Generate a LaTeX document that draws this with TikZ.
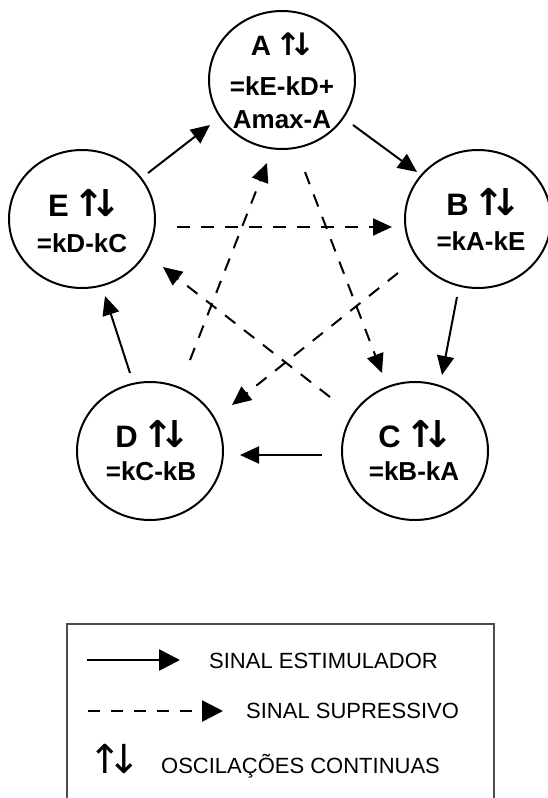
\documentclass[tikz,border=0pt]{standalone}
\usepackage{fontspec}
\setmainfont{Liberation Sans}
\newfontfamily\symfont{DejaVu Sans}
\usetikzlibrary{arrows.meta,calc,shapes.geometric}

% bold "up-down" oscillation mark used in every cell heading
\newcommand{\oscmark}[1]{{\symfont\bfseries\fontsize{#1}{#1}\selectfont ↑\kern-0.38em↓}}

\begin{document}
\begin{tikzpicture}[x=1pt,y=-1pt,
  cell/.style={draw, line width=2pt, ellipse, minimum width=146pt,
    minimum height=138pt, inner sep=0pt},
  headtxt/.style={anchor=base, inner sep=0pt,
    font=\bfseries\fontsize{31}{31}\selectfont},
  ruletxt/.style={anchor=base, inner sep=0pt,
    font=\bfseries\fontsize{26}{26}\selectfont},
  stim/.style={line width=2pt, -{Triangle[length=19pt,width=17pt]}},
  supp/.style={stim, dash pattern=on 13pt off 11pt},
  keyline/.style={line width=2.5pt, -{Triangle[length=21pt,width=21pt]}},
  keytxt/.style={anchor=base west, inner sep=0pt,
    font=\fontsize{22}{22}\selectfont},
]
\useasboundingbox (0,0) rectangle (547,798);

% the five cells
\node[cell] (A) at (282,80) {};
\node[cell] (E) at (82,219) {};
\node[cell] (B) at (478,219) {};
\node[cell] (D) at (150,451) {};
\node[cell] (C) at (415,451) {};

% cell labels
\node[anchor=base, inner sep=0pt, font=\bfseries\fontsize{28}{28}\selectfont]
  (Ahead) at (283,55) {A\hspace{4pt}\oscmark{31}};
\node[ruletxt] (Arule) at (282,95) {=kE-kD+};
\node[ruletxt] (Arule2) at (282,128) {Amax-A};

\node[headtxt] (Ehead) at (85,216) {E\hspace{5pt}\oscmark{37}};
\node[ruletxt] (Erule) at (82,252) {=kD-kC};

\node[headtxt] (Bhead) at (484,215) {B\hspace{5pt}\oscmark{37}};
\node[ruletxt] (Brule) at (481,250) {=kA-kE};

\node[headtxt] (Dhead) at (153,447) {D\hspace{5pt}\oscmark{37}};
\node[ruletxt] (Drule) at (151,480) {=kC-kB};

\node[headtxt] (Chead) at (416,447) {C\hspace{5pt}\oscmark{37}};
\node[ruletxt] (Crule) at (414,480) {=kB-kA};

% stimulating signals around the ring
\draw[stim] ($(E)+(66,-46)$) -- ($(A)+(-72,45)$);
\draw[stim] ($(A)+(71,45)$) -- ($(B)+(-61,-47)$);
\draw[stim] ($(B)+(-21,78)$) -- ($(C)+(27,-76)$);
\draw[stim] ($(C)+(-93,4)$) -- ($(D)+(90,4)$);
\draw[stim] ($(D)+(-20,-78)$) -- ($(E)+(23,77)$);

% suppressive signals across the star
\draw[supp] ($(E)+(95,8)$) -- ($(B)+(-86,8)$);
\draw[supp] ($(A)+(23,92)$) -- ($(C)+(-33,-78)$);
\draw[supp] ($(B)+(-80,54)$) -- ($(D)+(82,-46)$);
\draw[supp] ($(C)+(-85,-54)$) -- ($(E)+(81,48)$);
\draw[supp] ($(D)+(40,-91)$) -- ($(A)+(-15,83)$);

% legend
\draw[line width=1.5pt, draw=black!70] (67,805) -- (67,624) -- (494,624) -- (494,805);
\coordinate (k1a) at (87,660);
\coordinate (k1b) at (180,660);
\coordinate (k2a) at (88,711);
\coordinate (k2b) at (223,711);
\draw[keyline] (k1a) -- (k1b);
\draw[keyline, dash pattern=on 12pt off 11pt] (k2a) -- (k2b);
\node[keytxt] (t1) at (209,668) {SINAL ESTIMULADOR};
\node[keytxt] (t2) at (246,718) {SINAL SUPRESSIVO};
\node[anchor=base west, inner sep=0pt, font=\symfont\fontsize{40}{40}\selectfont]
  (t3sym) at (88,773) {↑\kern-0.35em↓};
\node[keytxt] (t3) at (161,773) {OSCILAÇÕES CONTINUAS};
\end{tikzpicture}
\end{document}
